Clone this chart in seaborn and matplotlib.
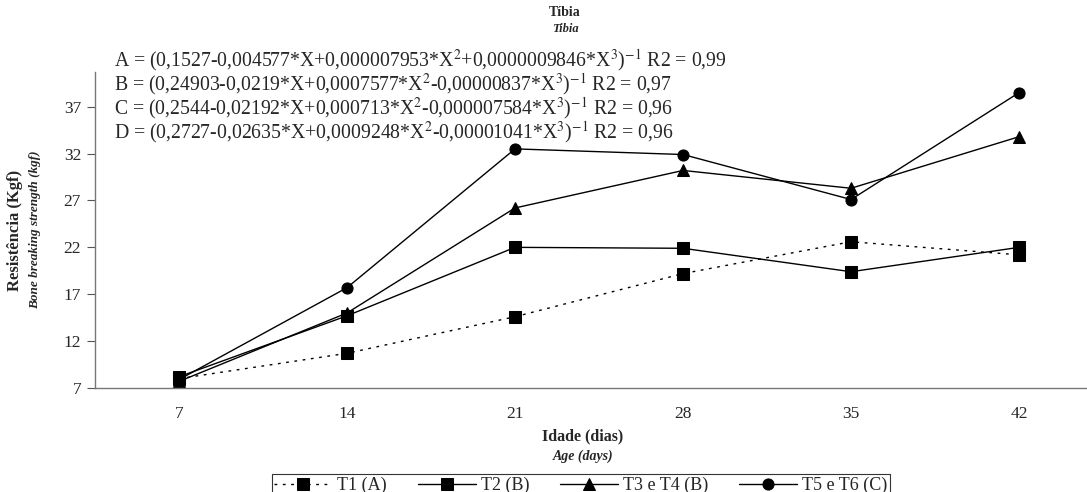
import numpy as np
import pandas as pd
import seaborn as sns
import matplotlib.pyplot as plt

# dados
idade = [7, 14, 21, 28, 35, 42]
t1 = [8.0, 10.7, 14.6, 19.2, 22.6, 21.2]
t2 = [8.2, 14.7, 22.0, 21.9, 19.4, 22.0]
t3_t4 = [7.7, 15.0, 26.2, 30.2, 28.3, 33.8]
t5_t6 = [7.9, 17.7, 32.5, 31.9, 27.1, 38.5]
series_names = ['T1 (A)', 'T2 (B)', 'T3 e T4 (B)', 'T5 e T6 (C)']
y_ticks = [7, 12, 17, 22, 27, 32, 37]

equations = [
    r'A = (0,1527-0,004577*X+0,000007953*X$^{2}$+0,0000009846*X$^{3}$)$^{-1}$ R2 = 0,99',
    r'B = (0,24903-0,0219*X+0,0007577*X$^{2}$-0,00000837*X$^{3}$)$^{-1}$ R2 = 0,97',
    r'C = (0,2544-0,02192*X+0,000713*X$^{2}$-0,000007584*X$^{3}$)$^{-1}$ R2 = 0,96',
    r'D = (0,2727-0,02635*X+0,0009248*X$^{2}$-0,00001041*X$^{3}$)$^{-1}$ R2 = 0,96',
]

sns.set_style('white')
plt.rcParams['font.family'] = ['Liberation Serif', 'DejaVu Serif']
plt.rcParams['mathtext.fontset'] = 'stix'

fig = plt.figure(figsize=(10.87, 4.92), dpi=100)
ax = fig.add_axes([95 / 1087, 1 - 388 / 492, 1 - 95 / 1087, (388 - 72) / 492])

styles = [('--', 's'), ('-', 's'), ('-', '^'), ('-', 'o')]
for name, vals, (ls, mk) in zip(series_names, [t1, t2, t3_t4, t5_t6], styles):
    df = pd.DataFrame({'idade': idade, 'res': vals})
    sns.lineplot(data=df, x='idade', y='res', ax=ax, color='black', linestyle=ls,
                 marker=mk, markersize=8, markeredgecolor='black', linewidth=1,
                 label=name)

# serie T1 tracejada
ax.lines[0].set_dashes((2, 4))

ax.set_xlim(3.5, 44.83)
ax.set_ylim(7, 40.7)
ax.set_xticks(idade)
ax.set_xticks([10.5, 17.5, 24.5, 31.5, 38.5], minor=True)
ax.set_yticks(y_ticks)
ax.tick_params(axis='x', which='major', length=0, labelsize=12.5, pad=13)
ax.tick_params(axis='x', which='minor', length=5, direction='out', color='#555555')
ax.tick_params(axis='y', length=6, direction='out', labelsize=12.5, color='#555555', left=True, pad=4)
ax.set_xlabel('')
ax.set_ylabel('')
for s in ['top', 'right']:
    ax.spines[s].set_visible(False)
for s in ['left', 'bottom']:
    ax.spines[s].set_color('#777777')
    ax.spines[s].set_linewidth(1)

# titulos
fig.text(565 / 1087, 1 - 12 / 492, 'Tíbia', ha='center', va='center', fontsize=10, fontweight='bold')
fig.text(565 / 1087, 1 - 29 / 492, 'Tibia', ha='center', va='center', fontsize=9, fontstyle='italic', fontweight='bold')
for i, eq in enumerate(equations):
    fig.text(114 / 1087, 1 - (60 + 24 * i) / 492, eq, ha='left', va='center', fontsize=14.2)

fig.text(15 / 1087, 1 - 230 / 492, 'Resistência (Kgf)', rotation=90, ha='center', va='center',
         fontsize=12, fontweight='bold')
fig.text(35 / 1087, 1 - 230 / 492, 'Bone breaking strength (kgf)', rotation=90, ha='center', va='center',
         fontsize=9.5, fontstyle='italic', fontweight='bold')
fig.text(583 / 1087, 1 - 436 / 492, 'Idade (dias)', ha='center', va='center', fontsize=11.5, fontweight='bold')
fig.text(583 / 1087, 1 - 456 / 492, 'Age (days)', ha='center', va='center', fontsize=10,
         fontstyle='italic', fontweight='bold')

ax.get_legend().remove()
handles, labels = ax.get_legend_handles_labels()
leg = fig.legend(handles, labels, loc='upper center', bbox_to_anchor=(581 / 1087, 1 - 474 / 492),
                 ncol=4, fontsize=13, frameon=True, fancybox=False, handlelength=3.2,
                 columnspacing=1.7, handletextpad=0.3, borderpad=0.15, borderaxespad=0)
leg.get_frame().set_edgecolor('black')
leg.get_frame().set_linewidth(0.8)

fig.savefig('out.png', dpi=100)
